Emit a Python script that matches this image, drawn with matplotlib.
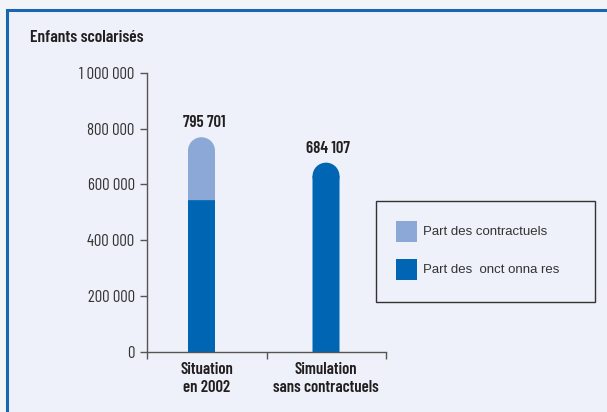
import matplotlib.pyplot as plt
from matplotlib.patches import Rectangle, Ellipse

# data
categories = ["Situation\nen 2002", "Simulation\nsans contractuels"]
fonctionnaires = [544000, 678000]
contractuels = [225000, 0]
totals = [795701, 684107]
legend_labels = ["Part des contractuels", "Part des  onct onna res"]
yticks = [0, 200000, 400000, 600000, 800000, 1000000]

light = "#8ba8d6"
dark = "#0066b3"
panel = "#eef1f9"
narrow = ["Barlow Condensed", "DejaVu Sans"]
stretch = "condensed"
bold = "semibold"

fig = plt.figure(figsize=(6.07, 4.12), dpi=100)
fig.patch.set_facecolor("#f2f4f7")
W, H = 607, 412

# blue framed panel
fig.patches.append(Rectangle((7 / W, -0.1), 1.2, (H - 10) / H + 0.1,
                             transform=fig.transFigure, facecolor=panel,
                             edgecolor="#1a66b2", linewidth=2.2, zorder=-5))

fig.text(30 / W, 1 - 37 / H, "Enfants scolarisés", family=narrow,
         stretch=stretch, fontweight=bold, fontsize=12.5, color="#231f20",
         va="center")

ax = fig.add_axes([147 / W, 60 / H, (386 - 147) / W, (352 - 72.7) / H])
ax.set_facecolor("none")
ax.set_xlim(0, 2)
ax.set_ylim(0, 1000000)

for s in ["top", "right"]:
    ax.spines[s].set_visible(False)
for s in ["left", "bottom"]:
    ax.spines[s].set_color("#555555")
    ax.spines[s].set_linewidth(1.0)

ax.set_yticks(yticks)
ax.set_yticklabels([f"{v:,}".replace(",", " ") for v in yticks],
                   family=narrow, stretch=stretch, fontsize=12,
                   color="#333333")
ax.tick_params(axis="y", length=5, width=1, color="#555555", pad=4)
ax.set_xticks([0, 1, 2])
ax.set_xticklabels([])
ax.tick_params(axis="x", which="major", length=5, width=1, color="#555555")
ax.set_xticks([0.5, 1.5], minor=True)
ax.set_xticklabels(categories, minor=True, family=narrow, stretch=stretch,
                   fontsize=12, fontweight=bold, color="#231f20",
                   linespacing=1.25)
ax.tick_params(axis="x", which="minor", length=0, pad=7)

# rounded-top bars
xpos = [0.456, 1.498]
bw = 0.226
ax_h_px = ax.get_position().height * H
r_y = (bw / 2) * (W * ax.get_position().width / 2) * 1000000 / ax_h_px

for i, x in enumerate(xpos):
    f = fonctionnaires[i]
    c = contractuels[i]
    top = f + c
    if c > 0:
        ax.add_patch(Rectangle((x - bw / 2, 0), bw, f, facecolor=dark, lw=0,
                               snap=False))
        ax.add_patch(Rectangle((x - bw / 2, f), bw, top - r_y - f,
                               facecolor=light, lw=0, snap=False))
        cap = light
    else:
        ax.add_patch(Rectangle((x - bw / 2, 0), bw, top - r_y,
                               facecolor=dark, lw=0, snap=False))
        cap = dark
    ax.add_patch(Ellipse((x, top - r_y), bw, 2 * r_y, facecolor=cap, lw=0))
    ax.text(x + 0.02, top + 25000, f"{totals[i]:,}".replace(",", " "),
            ha="center", va="bottom", family=narrow, stretch=stretch,
            fontsize=12, fontweight=bold, color="#231f20")

# legend box
fig.patches.append(Rectangle((376 / W, 1 - 301.5 / H), 219 / W, 101 / H,
                             transform=fig.transFigure, facecolor="none",
                             edgecolor="#333333", linewidth=1.0))
for k, (lab, col) in enumerate(zip(legend_labels, [light, dark])):
    y0 = 221 + 38 * k
    fig.patches.append(Rectangle((396 / W, 1 - (y0 + 21) / H), 21 / W, 21 / H,
                                 transform=fig.transFigure, facecolor=col,
                                 lw=0))
    fig.text(423 / W, 1 - (y0 + 11) / H, lab, family="Liberation Sans",
             fontsize=9.5, color="#333333", va="center")

fig.savefig("out.png", dpi=100)
